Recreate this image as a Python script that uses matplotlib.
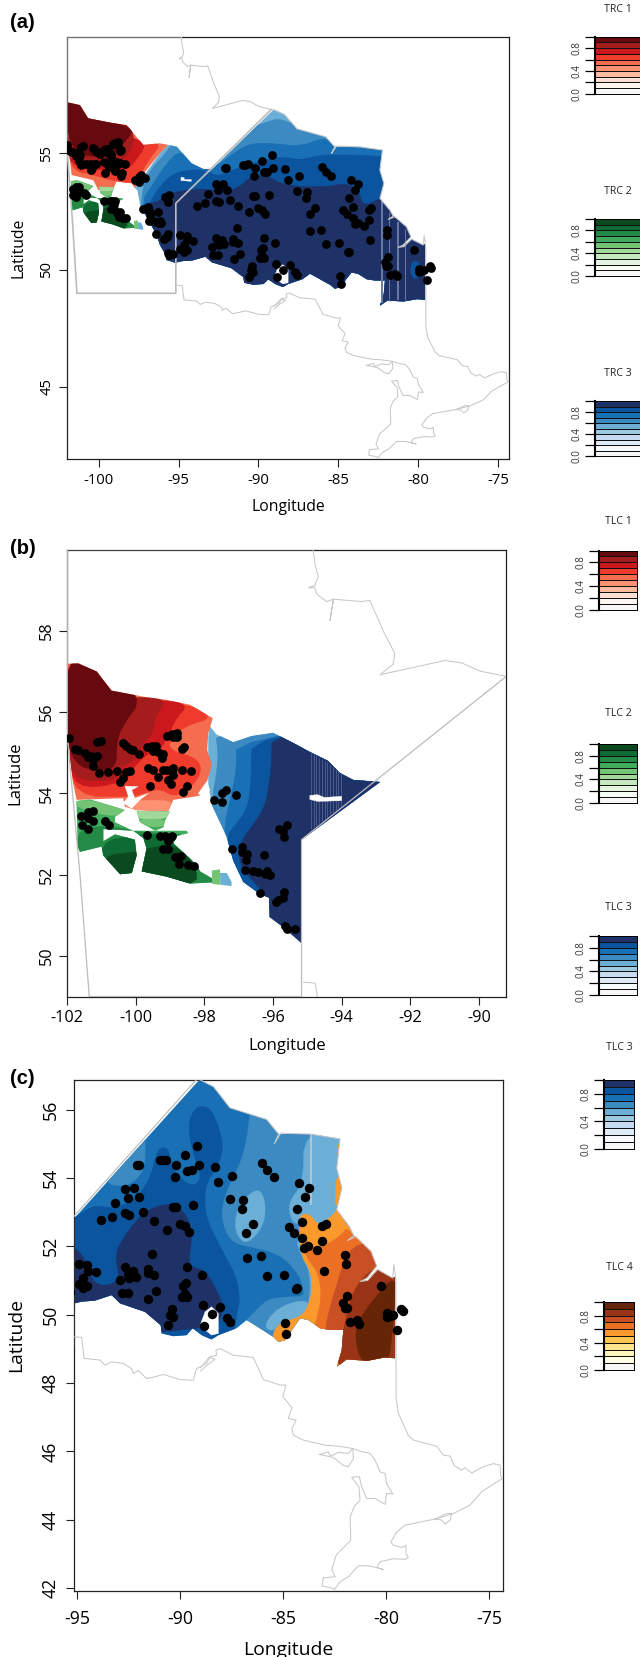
import numpy as np
import matplotlib
matplotlib.use("Agg")
import matplotlib.pyplot as plt
import matplotlib.ticker
from matplotlib.colors import ListedColormap
from matplotlib.patches import Polygon, PathPatch
from matplotlib.path import Path

plt.rcParams["font.family"] = ["Open Sans", "DejaVu Sans"]

# colour ramps, darkest first
REDS = ["#670A10", "#A51C1D", "#CB181D", "#EF3B2C", "#F46D4F", "#FC9272", "#FCBBA1", "#FEE0D2", "#FFF5F0", "#F7F7F7"]
GREENS = ["#0B4A1F", "#0E6B33", "#238B45", "#41AB5D", "#74C476", "#A1D99B", "#C7E9C0", "#E5F5E0", "#F7FCF5", "#F7F7F7"]
BLUES = ["#1E3268", "#0B559F", "#1A70B5", "#3B8BC2", "#6BAED6", "#9ECAE1", "#C6DBEF", "#DEEBF7", "#F7FBFF", "#F7F7F7"]
BROWNS = ["#662506", "#993416", "#C94F24", "#EC7024", "#FA9A2C", "#FEC44F", "#FEE391", "#FFF7BC", "#FFFFE5", "#F7F7F7"]

# sampled sites, lon/lat
sites_lon = [-89.16, -89.76, -90.81, -90.97, -90.68, -90.2, -89.07, -88.31, -89.65, -89.44, -90.25, -88.14, -87.48,
             -92.01, -92.1, -92.66, -92.24, -92.54, -91.99, -93.16, -93.32, -93.84, -92.66, -92.49, -91.78, -91.25,
             -90.33, -90.2, -89.36, -90.62, -90.0, -89.76, -89.58, -91.36, -92.67, -94.5, -94.9, -94.45, -94.09,
             -94.69, -94.9, -94.69, -94.5, -92.9, -92.46, -92.27, -92.51, -92.15, -91.57, -91.57, -91.27, -92.82,
             -92.51, -91.18, -91.54, -89.65, -88.94, -89.71, -89.84, -89.76, -89.92, -89.68, -88.9, -88.05, -88.47,
             -90.41, -90.49, -90.33, -90.6, -88.84, -87.71, -87.58, -86.01, -85.77, -85.43, -84.23, -83.76, -83.96,
             -84.31, -87.6, -86.95, -87.01, -86.48, -86.8, -84.07, -84.72, -84.46, -84.09, -83.97, -83.78, -83.37,
             -83.1, -82.94, -83.1, -86.06, -86.75, -85.8, -84.96, -84.38, -84.31, -83.04, -81.98, -81.94, -81.92,
             -82.11, -82.0, -81.89, -81.76, -81.43, -81.34, -80.24, -84.91, -84.85, -79.95, -79.82, -79.95, -79.66,
             -79.28, -79.2, -79.46,
             -101.95, -101.78, -101.68, -101.48, -101.39, -101.24, -101.14, -101.32, -101.26, -101.13, -101.01,
             -101.08, -100.8, -100.55, -100.29, -100.17, -100.39, -100.45, -100.37, -100.29, -100.17, -100.08,
             -99.92, -99.69, -99.54, -99.4, -99.51, -99.35, -99.2, -99.23, -99.1, -98.96, -98.81, -98.91, -98.79,
             -98.67, -98.6, -99.64, -99.51, -99.37, -99.59, -99.2, -99.1, -98.96, -98.91, -99.06, -98.99, -98.91,
             -98.67, -98.38, -98.52, -98.62, -101.6, -101.39, -101.26, -101.39, -101.26, -101.58, -101.41, -100.9,
             -100.79, -99.68, -99.3, -99.15, -98.96, -99.06, -99.22, -99.07, -98.86, -98.69, -98.74, -98.47, -98.31,
             -97.72, -97.5, -97.38, -97.5, -97.07, -97.2, -96.91, -96.9, -96.77, -96.79, -96.82, -96.58, -96.43,
             -96.24, -96.09, -96.19, -96.26, -96.38, -95.58, -95.82, -95.7, -95.67, -95.68, -95.72, -95.85, -95.92,
             -95.65, -95.59, -95.36]
sites_lat = [54.92, 54.67, 54.52, 54.52, 54.53, 54.39, 54.37, 54.32, 54.2, 54.22, 54.03, 53.87, 54.05,
             54.37, 54.37, 53.68, 53.69, 53.41, 53.44, 53.27, 52.87, 52.76, 52.96, 52.9, 53.0, 52.75,
             53.16, 53.15, 53.21, 52.47, 52.64, 52.59, 52.42, 51.78, 51.39, 51.44, 51.49, 51.29, 51.25,
             51.06, 50.89, 50.78, 50.84, 51.0, 51.08, 51.27, 51.2, 51.11, 51.34, 51.21, 51.17, 50.64,
             50.64, 50.69, 50.46, 51.38, 51.16, 50.93, 50.84, 50.61, 50.52, 50.52, 50.27, 50.22, 50.02,
             50.16, 49.99, 49.93, 49.7, 49.68, 49.91, 49.77, 54.43, 54.22, 54.03, 53.84, 53.7, 53.44,
             53.08, 53.39, 53.36, 53.1, 52.65, 52.38, 52.7, 52.57, 52.39, 52.24, 51.95, 52.01, 51.88,
             52.59, 52.65, 52.15, 51.72, 51.67, 51.13, 51.15, 50.76, 50.77, 51.27, 51.73, 51.48, 50.55,
             50.35, 50.18, 50.18, 49.78, 49.84, 49.73, 50.85, 49.76, 49.42, 50.04, 49.95, 49.93, 49.99,
             50.16, 50.1, 49.56,
             55.36, 55.09, 55.06, 55.0, 54.89, 54.83, 54.91, 54.93, 54.67, 55.27, 55.3,
             54.5, 54.53, 54.54, 54.53, 54.54, 54.37, 54.28, 55.24, 55.17, 55.09, 55.06,
             54.98, 55.14, 55.17, 55.17, 55.04, 55.02, 54.96, 54.87, 55.41, 55.45, 55.48, 55.39, 55.39,
             55.08, 55.13, 54.63, 54.57, 54.41, 54.17, 54.57, 54.57, 54.54, 54.63, 54.33, 54.24, 54.46,
             54.58, 54.56, 54.17, 54.03, 53.45, 53.55, 53.57, 53.4, 53.33, 53.23, 53.12, 53.31,
             53.22, 52.97, 52.95, 52.95, 52.95, 52.82, 52.62, 52.62, 52.43, 52.47, 52.25, 52.24, 52.21,
             53.84, 54.0, 54.08, 53.79, 53.96, 52.63, 52.69, 52.56, 52.5, 52.37, 52.11, 52.1, 52.06,
             52.01, 52.0, 52.08, 52.49, 51.55, 53.23, 53.12, 53.08, 52.92, 51.56, 51.43, 51.37, 51.32,
             50.73, 50.66, 50.67]

# boundary lines
west_border = [(-94.83, 60), (-102, 60), (-102, 55.4), (-101.63, 52), (-101.36, 49), (-95.17, 49), (-95.17, 52.86), (-89.2, 56.88)]
hudson_coast = [(-94.83, 60), (-94.78, 59.64), (-94.68, 59.34), (-94.78, 59.12), (-94.97, 59.06), (-94.78, 59.06),
                (-94.73, 58.91), (-94.44, 58.72), (-94.24, 58.78), (-94.34, 58.26), (-94.24, 58.78), (-93.42, 58.72),
                (-93.18, 58.75), (-92.79, 58.0), (-92.45, 57.44), (-92.5, 57.18), (-92.88, 56.92), (-92.5, 56.99),
                (-90.99, 57.27), (-90.5, 57.21), (-89.97, 57.01), (-89.2, 56.88)]
ontario_coast = [(-89.2, 56.88), (-89.03, 56.87), (-88.38, 56.67), (-87.58, 56.05), (-86.69, 55.88), (-85.8, 55.71),
                 (-85.22, 55.28), (-85.43, 55.0), (-85.11, 55.31), (-83.65, 55.28), (-82.24, 55.14), (-82.4, 54.28),
                 (-82.15, 53.71), (-82.4, 53.07), (-81.78, 52.57), (-81.57, 52.31), (-81.88, 52.17), (-81.46, 52.28),
                 (-80.74, 51.85), (-80.46, 51.42), (-80.94, 51.07), (-81.26, 50.97), (-80.9, 51.0), (-80.42, 51.32),
                 (-79.69, 51.07), (-79.63, 51.47), (-79.53, 51.0), (-79.52, 47.55), (-79.41, 47.11), (-78.93, 46.47),
                 (-78.68, 46.33), (-77.55, 46.15), (-77.23, 45.89), (-76.9, 45.86), (-76.71, 45.58), (-76.34, 45.45),
                 (-76.18, 45.52), (-75.85, 45.37), (-75.29, 45.55), (-74.8, 45.64), (-74.48, 45.6), (-74.45, 45.3),
                 (-74.37, 45.2), (-74.88, 45.01), (-75.37, 44.82), (-75.93, 44.43), (-76.74, 44.18), (-77.63, 44.02),
                 (-79.09, 43.84), (-79.49, 43.64), (-79.77, 43.35), (-79.65, 43.25), (-79.25, 43.19), (-79.05, 43.25),
                 (-79.04, 43.01), (-78.93, 42.89), (-79.09, 42.84), (-79.65, 42.86), (-80.3, 42.77), (-80.46, 42.6),
                 (-80.14, 42.54), (-80.46, 42.6), (-80.87, 42.65), (-81.35, 42.65), (-81.84, 42.33), (-82.24, 42.18),
                 (-82.51, 41.96)]
great_lakes = [(-95.11, 49.35), (-94.77, 49.33), (-94.66, 48.72), (-93.88, 48.67), (-93.64, 48.52), (-93.32, 48.62),
               (-92.75, 48.57), (-92.35, 48.42), (-92.27, 48.28), (-92.03, 48.36), (-91.62, 48.13), (-91.22, 48.18),
               (-90.81, 48.25), (-90.0, 48.1), (-89.36, 48.08), (-89.2, 48.42), (-88.71, 48.57), (-88.55, 48.77),
               (-88.23, 48.81), (-88.26, 48.96), (-88.06, 49.01), (-87.42, 48.81), (-86.45, 48.75), (-85.96, 48.1),
               (-85.15, 47.94), (-84.86, 47.94), (-85.02, 47.6), (-84.58, 47.28), (-84.75, 46.96), (-84.37, 46.91),
               (-84.58, 46.67), (-84.5, 46.47), (-84.02, 46.33), (-82.97, 46.18), (-82.32, 46.15), (-81.59, 46.08),
               (-81.19, 45.99), (-80.78, 45.94), (-80.54, 45.74), (-80.3, 45.4), (-80.06, 45.35), (-79.98, 45.06),
               (-79.68, 44.75), (-79.98, 44.77), (-80.06, 44.45), (-80.54, 44.62), (-80.95, 44.62), (-81.19, 44.96),
               (-81.3, 45.26), (-81.67, 45.24), (-81.32, 44.96), (-81.27, 44.57), (-81.56, 44.38), (-81.75, 44.08),
               (-81.72, 43.4), (-82.43, 42.96), (-82.64, 42.54), (-82.48, 42.33), (-83.05, 42.3), (-83.1, 42.06),
               (-82.64, 42.0), (-82.51, 41.96)]
nipigon_loop = [(-89.0, 48.35), (-88.63, 48.55), (-88.3, 48.7), (-88.6, 48.75), (-89.0, 48.45)]
manitoulin = [(-83.24, 45.91), (-82.8, 45.99), (-82.72, 45.86), (-82.32, 45.97), (-81.84, 45.94), (-81.62, 46.08),
              (-81.59, 45.79), (-81.84, 45.55), (-82.11, 45.6), (-82.56, 45.82), (-83.24, 45.91)]
thousand_isl = [(-77.63, 44.02), (-77.07, 44.18), (-76.82, 44.18), (-76.9, 43.99), (-77.15, 43.87), (-77.31, 43.99), (-77.63, 44.02)]

# footprints of the clusters
whole_map = [(-104, 40), (-70, 40), (-70, 62), (-104, 62)]
east_area = [(-95.13, 52.82), (-89.2, 56.78), (-89.03, 56.87), (-88.38, 56.67), (-87.58, 56.05), (-86.69, 55.88),
             (-85.8, 55.71), (-85.22, 55.28), (-83.65, 55.28), (-82.24, 55.14), (-82.4, 54.28), (-82.15, 53.71),
             (-82.4, 53.07), (-81.78, 52.57), (-81.57, 52.31), (-80.74, 51.85), (-80.46, 51.42), (-80.94, 51.07),
             (-81.26, 50.97), (-80.9, 51.0), (-80.42, 51.32), (-79.69, 51.07), (-79.57, 51.1), (-79.57, 48.72),
             (-80.06, 48.75), (-80.91, 48.65), (-81.43, 48.67), (-81.92, 48.69), (-82.4, 48.47), (-82.16, 48.96),
             (-82.08, 49.55), (-82.72, 49.55), (-83.21, 49.6), (-83.78, 49.84), (-84.18, 49.89), (-84.91, 49.25),
             (-85.23, 49.2), (-85.48, 49.35), (-86.37, 49.69), (-86.77, 49.84), (-87.26, 49.6), (-88.14, 49.4),
             (-88.47, 49.27), (-88.95, 49.4), (-89.39, 49.6), (-89.68, 49.4), (-90.33, 49.37), (-90.89, 49.45),
             (-90.94, 49.69), (-91.7, 50.08), (-92.19, 50.18), (-92.91, 50.33), (-93.32, 50.57), (-94.13, 50.41),
             (-94.77, 50.38), (-95.11, 50.33)]
west_blue_b = [(-97.86, 55.67), (-97.65, 55.45), (-97.16, 55.26), (-96.63, 55.41), (-96.0, 55.49), (-95.41, 55.24),
               (-94.93, 55.02), (-94.4, 54.8), (-94.05, 54.5), (-93.66, 54.33), (-92.88, 54.28), (-95.17, 52.86),
               (-95.17, 50.31), (-95.7, 50.7), (-96.11, 50.96), (-96.11, 51.43), (-96.38, 51.52), (-96.87, 51.82),
               (-97.16, 52.34), (-97.36, 52.95), (-97.79, 53.72), (-97.89, 54.24), (-97.89, 55.36)]
west_blue_a = [(-97.73, 53.5), (-96.17, 55), (-95.64, 55.36), (-95.12, 55.29), (-94.19, 54.57), (-93.46, 54.33),
               (-92.93, 54.33), (-95.13, 52.82), (-95.13, 50.29), (-95.75, 50.43), (-95.85, 50.71), (-96.16, 51.07),
               (-96.37, 51.5), (-97, 52.29), (-97.41, 52.79), (-97.58, 53.43)]
red_area_b = [(-102.0, 57.19), (-101.68, 57.2), (-101.14, 57.0), (-100.95, 56.79), (-100.71, 56.53), (-99.78, 56.38),
              (-99.1, 56.3), (-98.42, 56.18), (-97.76, 55.85), (-97.89, 55.48), (-97.92, 55.07), (-97.79, 54.7),
              (-97.94, 54.25), (-98.08, 53.96), (-98.28, 53.92), (-98.91, 53.84), (-99.06, 53.55), (-99.98, 53.59),
              (-100.32, 53.67), (-100.37, 53.88), (-101.73, 53.84), (-101.83, 54.25), (-102, 55.48)]
red_area_a = [(-101.96, 57.19), (-101.17, 57.07), (-100.65, 56.5), (-99.08, 56.29), (-98.25, 56.21), (-97.73, 55.79),
              (-97.21, 55.36), (-96.17, 55.43), (-95.64, 55.36), (-96.17, 55), (-97.1, 54.21), (-97.73, 53.5),
              (-97.94, 53.71), (-98.88, 53.79), (-99.08, 53.5), (-100.02, 53.43), (-100.34, 53.85), (-101.69, 54.07),
              (-101.9, 55.36)]
green_west = [(-101.73, 53.81), (-101.34, 53.85), (-100.66, 53.68), (-100.32, 53.59), (-100.61, 53.42), (-100.61, 53.29),
              (-100.08, 53.08), (-100.95, 53.12), (-100.95, 52.82), (-100.61, 52.99), (-100.03, 52.86), (-99.98, 52.47),
              (-100.12, 52.04), (-100.46, 52.01), (-100.95, 52.47), (-101.0, 52.69), (-101.63, 52.56), (-101.7, 52.69)]
green_east = [(-100.08, 53.08), (-99.44, 53.08), (-98.52, 53.08), (-98.47, 53.02), (-98.81, 52.95), (-98.91, 52.77),
              (-98.23, 52.25), (-98.13, 52.08), (-97.79, 51.91), (-97.74, 51.81), (-98.42, 51.78), (-99.1, 51.95),
              (-99.83, 52.08), (-99.69, 52.64), (-99.78, 52.9)]
green_north = [(-99.98, 53.57), (-99.01, 53.55), (-99.15, 53.33), (-99.2, 53.16), (-99.44, 53.08), (-99.88, 53.29)]

# red contour bands, panel b
rb_red = [(-98.42, 56.22), (-97.74, 55.85), (-98.52, 55.68), (-98.96, 55.36), (-99.06, 55.07), (-98.18, 54.86),
          (-98.08, 54.49), (-98.47, 54.08), (-98.91, 53.92), (-99.3, 54.12), (-99.78, 54.0), (-100.08, 53.92),
          (-101.78, 53.92), (-102.02, 55.07), (-101.24, 56.3)]
rb_mid = [(-99.1, 56.3), (-98.47, 56.18), (-98.86, 55.81), (-99.06, 55.4), (-99.3, 55.07), (-99.49, 55.07), (-99.98, 54.74),
          (-100.37, 54.25), (-101.78, 54.1), (-102.02, 55.07), (-101.24, 56.3)]
rb_deep = [(-99.78, 56.38), (-99.1, 56.3), (-99.44, 55.89), (-99.49, 55.48), (-99.88, 55.15), (-100.03, 54.82),
           (-100.56, 54.6), (-100.56, 54.31), (-101.78, 54.31), (-102.02, 55.07), (-101.24, 56.3)]
rb_dark = [(-102.07, 57.29), (-101.14, 57.29), (-99.78, 56.38), (-100.37, 55.68), (-100.56, 55.3), (-100.56, 54.66),
           (-101.05, 54.53), (-101.78, 54.7), (-102.07, 55.48)]
rb_pale = [(-100.42, 53.8), (-98.86, 53.85), (-99.01, 53.51), (-100.03, 53.51)]
gaps_b = [[(-100.32, 54.18), (-99.93, 54.17), (-100.12, 54.08), (-100.03, 53.88), (-99.64, 54.0), (-99.88, 53.84),
           (-100.12, 53.63), (-100.37, 53.76), (-100.22, 53.92)],
          [(-98.18, 54.0), (-97.94, 54.29), (-97.84, 54.08), (-98.08, 53.92)],
          [(-94.93, 53.95), (-94.7, 53.97), (-94.5, 53.9), (-94.0, 53.93), (-94, 53.82), (-94.7, 53.8), (-94.93, 53.85)]]

# red contour bands, panel a
ra_red = [(-101.69, 54.29), (-100.34, 54.07), (-98.98, 53.81), (-97.94, 53.71), (-97.42, 54.07), (-96.79, 54.79),
          (-96.06, 55.43), (-97.21, 55.43), (-100.34, 56.07), (-102, 55.36)]
ra_mid = [(-101.73, 54.5), (-100.34, 54.29), (-98.25, 54.29), (-97.73, 54.64), (-97, 55.36), (-97.63, 55.64),
          (-100.34, 56.07), (-102, 55.36)]
ra_deep = [(-101.79, 54.79), (-100.34, 54.57), (-98.46, 54.71), (-98.04, 55.07), (-97.73, 55.71), (-98.25, 56.36),
           (-100.34, 56.64), (-102, 56.07)]
ra_dark = [(-102.1, 57.29), (-101.17, 57.29), (-100.34, 56.64), (-97.94, 56.07), (-97.88, 55.93), (-98.35, 55.5),
           (-98.88, 55.07), (-99.92, 54.79), (-101.79, 55.07)]

# green contour bands, panels a and b
g_pale = [(-100.03, 53.64), (-98.96, 53.64), (-99.06, 53.36), (-100.03, 53.36)]
g_light_w = [(-101.81, 53.9), (-100.22, 53.64), (-100.56, 53.4), (-101.75, 53.64)]
g_light_n = [(-100.03, 53.36), (-99.06, 53.36), (-99.15, 53.16), (-99.88, 53.2)]
g_mid = [(-101.78, 53.08), (-101.05, 53.2), (-100.46, 53.16), (-99.88, 53.03), (-98.42, 53.02), (-98.52, 52.34),
         (-97.74, 52.0), (-97.74, 51.69), (-101.78, 51.69)]
g_deep = [(-101.05, 52.82), (-100.08, 52.95), (-99.69, 52.99), (-98.91, 52.99), (-98.81, 52.82), (-98.23, 52.25),
          (-98.33, 51.69), (-101.05, 51.69)]
g_dark = [(-101, 52.47), (-99.98, 52.56), (-99.78, 52.62), (-98.91, 52.77), (-98.23, 52.21), (-98.23, 51.69), (-101, 51.69)]
tail_green = [(-97.79, 52.1), (-97.55, 52.13), (-97.53, 51.75), (-97.77, 51.77)]
tail_blue = [(-97.55, 52.04), (-97.35, 52.04), (-97.21, 51.82), (-97.21, 51.72), (-97.53, 51.75)]

# blue contour bands, panel b
bb_3 = [(-97.69, 55.62), (-97.6, 54.93), (-97.65, 54.5), (-97.74, 54.07), (-97.79, 53.64), (-97.79, 51), (-90, 51), (-90, 56)]
bb_2 = [(-97.08, 55.36), (-97.06, 54.59), (-97.26, 53.81), (-97.43, 53.2), (-97.43, 51), (-90, 51), (-90, 56)]
bb_1 = [(-96.63, 55.45), (-96.63, 54.5), (-96.72, 53.64), (-97.16, 53.16), (-97.35, 52.95), (-97.35, 51), (-90, 51), (-90, 56)]
bb_0 = [(-96.04, 55.54), (-96.04, 54.76), (-96.14, 54.07), (-96.29, 53.55), (-97.01, 52.77), (-96.97, 52.25), (-96.67, 51.91),
        (-96.19, 51.48), (-96.13, 50.87), (-96.13, 50), (-90, 50), (-90, 56)]

# blue contour bands, panel a
ba_3 = [(-97.42, 53.36), (-96.79, 54.29), (-95.54, 55.21), (-95, 56), (-91, 56), (-89.39, 56.36), (-88.76, 56.5),
        (-87.82, 56.26), (-85, 56), (-75, 56), (-75, 45), (-97.42, 45)]
ba_2 = [(-97.31, 52.93), (-96.79, 53.5), (-95.75, 54.57), (-94.92, 55.14), (-94, 54.6), (-92.62, 54.43), (-91.58, 55),
        (-90.53, 55.43), (-89.07, 55.43), (-87.41, 55.29), (-85.74, 55.71), (-85.11, 55.29), (-82.19, 55.14), (-75, 55),
        (-75, 45), (-97.31, 45)]
ba_1 = [(-96.96, 52.57), (-96.58, 53.21), (-95.54, 54.07), (-94.5, 54.29), (-93.25, 54.29), (-92.62, 54), (-91.58, 54.29),
        (-91.05, 54.43), (-89.7, 54.71), (-88.45, 54.86), (-87.41, 54.71), (-86.16, 54.93), (-85.32, 54.93), (-83.65, 54.93),
        (-82.24, 54.86), (-75, 54.8), (-75, 45), (-96.96, 45)]
ba_0 = [(-97.41, 52.71), (-96.89, 52.86), (-96.27, 52.93), (-95.75, 53.21), (-95.12, 53.36), (-93.66, 53.5), (-91.99, 53.36),
        (-91.16, 53.57), (-90.53, 54.0), (-89.49, 54.07), (-88.66, 53.71), (-87.41, 53.57), (-85.74, 53.57), (-84.49, 53.71),
        (-83.76, 53.43), (-83.44, 52.71), (-82.4, 53.07), (-82.2, 53), (-75, 53), (-75, 45), (-98, 45), (-98, 52.3)]
ba_blob = [(-80.32, 50.43), (-79.86, 50.29), (-79.86, 49.71), (-80.32, 49.6), (-80.52, 50.0)]
gap_lake = [(-88.79, 50.08), (-88.47, 50.23), (-88.14, 50.03), (-88.14, 49.45), (-88.47, 49.4), (-88.79, 49.55), (-89.0, 49.74)]
gap_a = [(-94.85, 53.97), (-94.65, 53.97), (-94.65, 53.88), (-94.2, 53.88), (-94.2, 53.8), (-94.85, 53.83)]

# blue and orange contour bands, panel c
bc_3_east = [(-86.6, 56.5), (-86.61, 55.84), (-86.77, 55.11), (-87.01, 54.52), (-87.58, 53.84), (-87.98, 53.16), (-87.9, 52.57),
             (-87.42, 52.09), (-86.61, 51.99), (-85.56, 51.84), (-84.83, 51.6), (-84.18, 51.11), (-83.99, 50.72), (-84.02, 50.52),
             (-84.99, 50.52), (-85.8, 50.43), (-86.45, 50.04), (-86.93, 49.74), (-86.93, 49), (-79, 49), (-79, 56.5)]
bc_3_nw = [(-93.72, 53.84), (-92.67, 53.74), (-92.03, 53.99), (-91.7, 54.38), (-91.7, 54.96), (-91.7, 55.4), (-93.7, 55)]
bc_1 = [(-95.1, 52.82), (-94.21, 53.21), (-93.32, 53.11), (-92.27, 53.31), (-91.46, 53.94), (-91.1, 54.87), (-90.57, 54.9),
        (-90.41, 54.33), (-90, 53.99), (-89.36, 53.74), (-88.95, 53.99), (-89.28, 54.52), (-89.65, 55.5), (-89.28, 56.09),
        (-88.55, 56.09), (-88.06, 55.4), (-87.9, 54.82), (-88.23, 54.28), (-88.79, 53.79), (-88.79, 52.87), (-88.06, 51.99),
        (-87.26, 51.11), (-87.09, 50.43), (-87.25, 50.04), (-87.42, 49.2), (-96, 49.2), (-96, 52.8)]
bc_0 = [(-90.49, 53.26), (-89.84, 53.06), (-89.39, 52.48), (-89.55, 51.7), (-89.52, 51.4), (-88.79, 51.31), (-88.23, 50.72),
        (-87.9, 50.23), (-88.1, 49.75), (-88.9, 49.6), (-96, 49.2), (-96, 52), (-95.1, 51.99), (-94.53, 51.55), (-94.29, 51.01),
        (-93.72, 50.82), (-92.91, 51.0), (-93.16, 51.74), (-92.83, 52.18), (-92.11, 52.77), (-91.46, 53.11)]
bc_4_mid = [(-87.34, 52.77), (-87.09, 53.26), (-86.2, 53.74), (-85.83, 53.26), (-85.96, 52.57), (-86.77, 52.04), (-87.26, 52.33)]
bc_4_south = [(-85.96, 49.65), (-85.32, 50.18), (-84.18, 50.43), (-83.7, 50.33), (-83.94, 49.94), (-85.07, 49.79), (-85.48, 49.5)]
bc_4_ne = [(-83.99, 55.35), (-84.02, 53.84), (-84.67, 53.35), (-84.72, 52.96), (-84.43, 52.62), (-83, 52.5), (-81.5, 53), (-81.5, 55.5)]
bc_4_strip = [(-84.43, 52.28), (-84.1, 51.7), (-83.73, 51.3), (-83.67, 50.62), (-83.94, 49.94), (-83, 50), (-83, 52.3)]
oc_strip_n = [(-82.36, 55.0), (-82.1, 55.1), (-82.1, 54.6), (-82.37, 54.62)]
oc_strip_s = [(-82.44, 54.09), (-82.0, 54.0), (-82.0, 53.4), (-82.32, 53.16), (-82.49, 53.26)]
oc_4 = [(-84.22, 52.92), (-83.7, 52.96), (-83.29, 52.57), (-82.49, 52.96), (-82.32, 53.16), (-81.76, 52.38), (-79, 52),
        (-79, 48.5), (-85.5, 48.5), (-85.56, 49.45), (-85.07, 49.79), (-84.18, 49.92), (-83.78, 50.23), (-83.57, 50.82),
        (-83.7, 51.31), (-84.1, 51.7), (-84.22, 52.38)]
oc_3 = [(-84.1, 51.99), (-83.05, 51.99), (-82.16, 52.33), (-81.92, 52.57), (-81.44, 52.18), (-79, 52), (-79, 48.5), (-84.0, 48.5),
        (-83.38, 49.84), (-83.13, 50.52), (-83.29, 51.21), (-83.78, 51.6)]
oc_2 = [(-81.44, 52.14), (-82.08, 51.5), (-82.33, 51.01), (-82.73, 50.23), (-82.97, 49.55), (-83, 48.5), (-79, 48.5), (-79, 52.1)]
oc_1 = [(-81.27, 51.01), (-81.76, 50.43), (-82.08, 49.55), (-82.16, 49.26), (-82.5, 48.3), (-79, 48.3), (-79, 51.4), (-80.5, 51.4)]
oc_0 = [(-79.58, 51.16), (-80.79, 50.33), (-81.6, 49.55), (-81.2, 48.5), (-79.9, 48.5), (-79.7, 49.5), (-79.57, 50.5)]

# striping left by the raster
stripes_a = [-82.24, -81.83, -81.26, -80.83]
stripes_a_width = [2.0, 1.0, 2.0, 1.0]
stripes_a_top = [52.95, 52.5, 52.05, 51.75]
stripes_a_bottom = [48.6, 48.68, 48.7, 48.7]
stripes_b = [-94.9, -94.82, -94.74, -94.66, -94.58, -94.5, -94.42, -94.34, -94.26, -94.18, -94.1, -94.02]
stripes_b_low = [53.12, 53.17, 53.22, 53.27, 53.32, 53.38, 53.43, 53.49, 53.54, 53.6, 53.65, 53.7]
stripes_b_high = [55.0, 54.96, 54.92, 54.88, 54.84, 54.8, 54.76, 54.7, 54.65, 54.6, 54.55, 54.5]
stripe_c = [(-83.67, 55.25), (-83.67, 53.25)]

# tick labels
legend_ticks = [0, 0.2, 0.4, 0.6, 0.8, 1.0]
legend_labels = ["0.0", "", "0.4", "", "0.8", ""]

W, H = 640, 1657


def add_ax(fig, left, right, top, bottom):
    return fig.add_axes([left / W, 1 - bottom / H, (right - left) / W, (bottom - top) / H])


def rounded(poly, passes=2):
    # corner cutting so contour bands read as curves
    pts = np.array(poly, dtype=float)
    for _ in range(passes):
        nxt = np.roll(pts, -1, axis=0)
        pts = np.column_stack([0.75 * pts + 0.25 * nxt, 0.25 * pts + 0.75 * nxt]).reshape(-1, 2)
    return pts


def fill_bands(ax, areas, bands):
    """base colour first, then each darker band clipped to the footprint"""
    verts, codes = [], []
    for area in areas:
        verts += list(area) + [area[0]]
        codes += [Path.MOVETO] + [Path.LINETO] * (len(area) - 1) + [Path.CLOSEPOLY]
    clip = PathPatch(Path(verts, codes), transform=ax.transData)
    for color, poly in bands:
        p = Polygon(rounded(poly), closed=True, facecolor=color, edgecolor=color, linewidth=0.3, zorder=2)
        ax.add_patch(p)
        p.set_clip_path(clip)


def add_gaps(ax, gaps):
    for gap in gaps:
        ax.add_patch(Polygon(gap, closed=True, facecolor="white", edgecolor="white", linewidth=0.2, zorder=3))


def draw_lines(ax, border_lw):
    for line in [hudson_coast, ontario_coast, great_lakes, nipigon_loop, manitoulin, thousand_isl]:
        xy = np.array(line)
        ax.plot(xy[:, 0], xy[:, 1], color="#c8c8c8", lw=0.75, zorder=4, solid_joinstyle="round")
    xy = np.array(west_border)
    ax.plot(xy[:, 0], xy[:, 1], color="#bcbcbc", lw=border_lw, zorder=4)


def finish(ax, xlim, ylim, xticks, yticks, tick_fs, label_fs, xpad, ypad, xlab, ylab, mask=None, dot=40):
    ax.set_xlim(*xlim)
    ax.set_ylim(*ylim)
    lon, lat = np.array(sites_lon), np.array(sites_lat)
    if mask is not None:
        lon, lat = lon[mask], lat[mask]
    ax.scatter(lon, lat, s=dot, c="black", linewidths=0, zorder=5)
    ax.set_xticks(xticks)
    ax.set_yticks(yticks)
    ax.tick_params(axis="x", length=6, width=0.8, labelsize=tick_fs, pad=xpad, color="#222222")
    ax.tick_params(axis="y", length=6, width=0.8, labelsize=tick_fs, pad=ypad, color="#222222")
    plt.setp(ax.get_yticklabels(), rotation=90, va="center")
    ax.set_xlabel("Longitude", fontsize=label_fs, labelpad=xlab)
    ax.set_ylabel("Latitude", fontsize=label_fs, labelpad=ylab)
    for s in ax.spines.values():
        s.set_linewidth(0.9)
        s.set_color("#222222")
    ax.xaxis.set_major_formatter(matplotlib.ticker.FuncFormatter(lambda v, _: "%d" % v))
    ax.yaxis.set_major_formatter(matplotlib.ticker.FuncFormatter(lambda v, _: "%d" % v))


def colour_key(fig, title, ramp, left, right, top, bottom, title_y):
    ax = add_ax(fig, left, right, top, bottom)
    levels = np.linspace(0, 1, 11)
    cmap = ListedColormap(ramp[::-1])
    ax.pcolormesh([0, 1], levels, np.arange(10).reshape(-1, 1), cmap=cmap, edgecolors="#111111", linewidth=0.55)
    ax.set_xlim(0, 1)
    ax.set_ylim(0, 1)
    ax.set_xticks([])
    ax.set_yticks(legend_ticks)
    ax.set_yticklabels(legend_labels, rotation=90, va="center", fontsize=7, color="#333333")
    ax.tick_params(axis="y", length=7, width=0.9, pad=2)
    for s in ax.spines.values():
        s.set_linewidth(0.7)
    ax.spines["left"].set_linewidth(1.5)
    fig.text((left + right) / 2 / W, 1 - title_y / H, title, ha="center", va="center", fontsize=7.6, color="#222222")


fig = plt.figure(figsize=(W / 100, H / 100), dpi=100)

# panel a
ax_a = add_ax(fig, 66.7, 509.3, 36.7, 458.7)
fill_bands(ax_a, [east_area, west_blue_a],
           [(BLUES[4], whole_map), (BLUES[3], ba_3), (BLUES[2], ba_2), (BLUES[1], ba_1), (BLUES[0], ba_0), (BLUES[1], ba_blob)])
for lon, lw, top, bottom in zip(stripes_a, stripes_a_width, stripes_a_top, stripes_a_bottom):
    ax_a.plot([lon, lon], [bottom, top], color="#6c7aa0", lw=lw * 0.7, zorder=2.5, solid_capstyle="butt")
fill_bands(ax_a, [red_area_a], [(REDS[4], whole_map), (REDS[3], ra_red), (REDS[2], ra_mid), (REDS[1], ra_deep), (REDS[0], ra_dark)])
green_layers = [(GREENS[3], whole_map), (GREENS[5], g_pale), (GREENS[4], g_light_w), (GREENS[4], g_light_n),
                (GREENS[2], g_mid), (GREENS[1], g_deep), (GREENS[0], g_dark)]
fill_bands(ax_a, [green_west, green_east, green_north], green_layers)
ax_a.add_patch(Polygon(tail_green, facecolor=GREENS[4], edgecolor="none", zorder=2))
ax_a.add_patch(Polygon(tail_blue, facecolor=BLUES[4], edgecolor="none", zorder=2))
add_gaps(ax_a, [gap_lake, gap_a])
draw_lines(ax_a, 1.2)
finish(ax_a, (-102, -74.3), (41.91, 60), [-100, -95, -90, -85, -80, -75], [45, 50, 55], 10.7, 11.3, 4, 3, 8, 9)

# panel b
ax_b = add_ax(fig, 67.3, 506.3, 549.6, 996.5)
fill_bands(ax_b, [west_blue_b], [(BLUES[4], whole_map), (BLUES[3], bb_3), (BLUES[2], bb_2), (BLUES[1], bb_1), (BLUES[0], bb_0)])
for lon, low, high in zip(stripes_b, stripes_b_low, stripes_b_high):
    ax_b.plot([lon, lon], [low, high], color="#53638f", lw=0.6, zorder=2.5, solid_capstyle="butt")
fill_bands(ax_b, [red_area_b], [(REDS[4], whole_map), (REDS[3], rb_red), (REDS[2], rb_mid), (REDS[1], rb_deep), (REDS[0], rb_dark), (REDS[5], rb_pale)])
fill_bands(ax_b, [green_west, green_east, green_north], green_layers)
ax_b.add_patch(Polygon(tail_green, facecolor=GREENS[4], edgecolor="none", zorder=2))
ax_b.add_patch(Polygon(tail_blue, facecolor=BLUES[4], edgecolor="none", zorder=2))
add_gaps(ax_b, gaps_b)
draw_lines(ax_b, 0.9)
finish(ax_b, (-102, -89.2), (49, 60), [-102, -100, -98, -96, -94, -92, -90], [50, 52, 54, 56, 58], 11.7, 12, 4, 3, 8, 11,
       mask=np.array(sites_lon) < -95)

# panel c
ax_c = add_ax(fig, 73.7, 502.7, 1079.8, 1590.8)
fill_bands(ax_c, [east_area],
           [(BLUES[2], whole_map), (BLUES[3], bc_3_east), (BLUES[3], bc_3_nw), (BLUES[1], bc_1), (BLUES[0], bc_0),
            (BLUES[4], bc_4_mid), (BLUES[4], bc_4_south), (BLUES[4], bc_4_ne), (BLUES[4], bc_4_strip),
            (BROWNS[4], oc_strip_n), (BROWNS[4], oc_strip_s), (BROWNS[4], oc_4), (BROWNS[3], oc_3),
            (BROWNS[2], oc_2), (BROWNS[1], oc_1), (BROWNS[0], oc_0)])
add_gaps(ax_c, [gap_lake])
draw_lines(ax_c, 0.85)
xy = np.array(stripe_c)
ax_c.plot(xy[:, 0], xy[:, 1], color="#c8c8c8", lw=1.2, zorder=4)
finish(ax_c, (-95.16, -74.35), (41.92, 56.87), [-95, -90, -85, -80, -75], [42, 44, 46, 48, 50, 52, 54, 56], 12.8, 13.9, 8, 4, 9, 12, dot=46)

# panel letters
for label, y in [("(a)", 22), ("(b)", 548), ("(c)", 1078)]:
    fig.text(10 / W, 1 - y / H, label, family=["Liberation Sans"], fontweight="bold", fontsize=14.5, ha="left", va="center")

# keys
colour_key(fig, "TRC 1", REDS, 595, 640, 36.7, 93.7, 9)
colour_key(fig, "TRC 2", GREENS, 595, 640, 219, 276, 192)
colour_key(fig, "TRC 3", BLUES, 595, 640, 401.5, 456.5, 374)
colour_key(fig, "TLC 1", REDS, 599, 637, 550.5, 610, 521)
colour_key(fig, "TLC 2", GREENS, 599, 637, 744, 803, 713)
colour_key(fig, "TLC 3", BLUES, 599, 637, 936, 995, 907)
colour_key(fig, "TLC 3", BLUES, 604.3, 634.3, 1080, 1149, 1047)
colour_key(fig, "TLC 4", BROWNS, 604.3, 634.3, 1302, 1370, 1268)

fig.savefig("out.png", dpi=100)
